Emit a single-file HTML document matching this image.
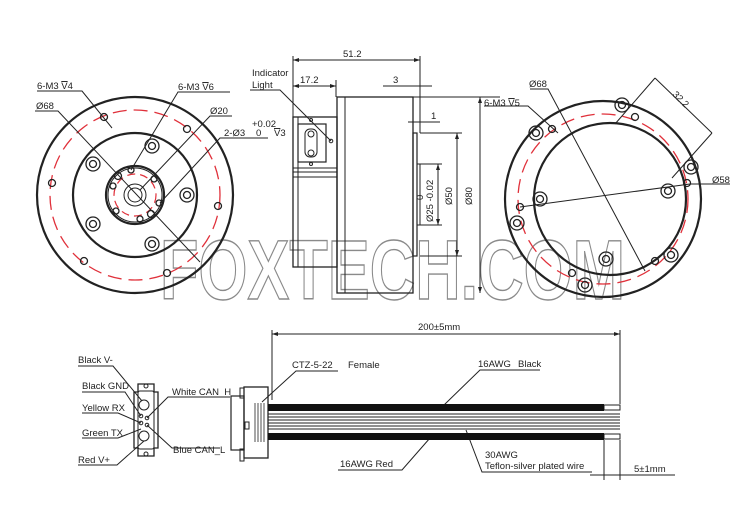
<!DOCTYPE html>
<html><head><meta charset="utf-8"><style>
html,body{margin:0;padding:0;background:#fff;}
svg{display:block;}
text{font-family:"Liberation Sans",sans-serif;fill:#222;}
.ov{text-decoration:overline;}
</style></head><body>
<svg width="750" height="518" viewBox="0 0 750 518" xmlns="http://www.w3.org/2000/svg">
<!-- WATERMARK -->
<text x="160" y="299" font-size="84" font-weight="bold" textLength="465" lengthAdjust="spacingAndGlyphs" style="fill:none;stroke:#8a8a8a;stroke-width:1.4;font-family:'Liberation Sans Narrow','Liberation Sans',sans-serif;">FOXTECH.COM</text>
<g fill="none" stroke="#222" stroke-width="1">
<!-- LEFT VIEW -->
<circle cx="135" cy="195" r="98" stroke-width="2.2"/>
<circle cx="135" cy="195" r="85" stroke="#e0303a" stroke-width="1.3" stroke-dasharray="14,7"/>
<circle cx="135" cy="195" r="62" stroke-width="2.2"/>
<circle cx="135" cy="195" r="29" stroke-width="2.2"/>
<circle cx="135" cy="195" r="27" stroke-width="1"/>
<circle cx="135" cy="195" r="21" stroke="#e0303a" stroke-width="1.2" stroke-dasharray="8,5"/>
<circle cx="135" cy="195" r="11"/>
<circle cx="135" cy="195" r="7"/>
<g stroke-width="1.3">
<circle cx="152" cy="146" r="7"/><circle cx="152" cy="146" r="3.5"/>
<circle cx="93" cy="164" r="7"/><circle cx="93" cy="164" r="3.5"/>
<circle cx="187" cy="195" r="7"/><circle cx="187" cy="195" r="3.5"/>
<circle cx="93" cy="224" r="7"/><circle cx="93" cy="224" r="3.5"/>
<circle cx="152" cy="244" r="7"/><circle cx="152" cy="244" r="3.5"/>
<circle cx="104" cy="117" r="3.5"/><circle cx="187" cy="129" r="3.5"/>
<circle cx="52" cy="183" r="3.5"/><circle cx="218" cy="206" r="3.5"/>
<circle cx="84" cy="261" r="3.5"/><circle cx="167" cy="273" r="3.5"/>
<circle cx="131" cy="170" r="3"/><circle cx="154" cy="179" r="3"/>
<circle cx="113" cy="186" r="3"/><circle cx="159" cy="203" r="3"/>
<circle cx="116" cy="211" r="3"/><circle cx="140" cy="219" r="3"/>
<circle cx="118" cy="176" r="3.5"/><circle cx="151" cy="214" r="3.5"/>
</g>
<polyline points="37,91 82,91 112,128"/>
<polyline points="35,111 58,111 200,262"/>
<polyline points="230,92 178,92 131,170"/>
<polyline points="232,116 210,116 140,190"/>
<polyline points="268,138 220,138 160,203"/>
<!-- SIDE VIEW -->
<rect x="337" y="97" width="76" height="196" stroke-width="1.3"/>
<line x1="345" y1="97" x2="345" y2="293"/>
<rect x="293" y="117" width="44" height="150" stroke-width="1.3"/>
<line x1="298" y1="117" x2="298" y2="267"/>
<line x1="293" y1="168" x2="337" y2="168"/>
<line x1="293" y1="172" x2="337" y2="172"/>
<line x1="293" y1="177" x2="337" y2="177"/>
<rect x="298" y="124" width="28" height="38" stroke-width="1.2"/>
<rect x="305" y="129" width="12" height="28" rx="5"/>
<circle cx="311" cy="134" r="3"/><circle cx="311" cy="153" r="3"/>
<circle cx="331" cy="141" r="1.8"/><circle cx="311" cy="120" r="1.5"/><circle cx="311" cy="164" r="1.5"/>
<rect x="413" y="133" width="4" height="123" stroke-width="1.2"/>
<rect x="417" y="164" width="3" height="61" stroke-width="1"/>
<line x1="293" y1="56" x2="293" y2="117"/>
<line x1="420" y1="56" x2="420" y2="133"/>
<line x1="293" y1="60" x2="420" y2="60"/>
<line x1="336" y1="80" x2="336" y2="97"/>
<line x1="293" y1="86" x2="336" y2="86"/>
<line x1="383" y1="86" x2="432" y2="86"/>
<line x1="408" y1="122" x2="440" y2="122"/>
<line x1="413" y1="97" x2="500" y2="97"/>
<line x1="480" y1="97" x2="480" y2="293"/>
<line x1="420" y1="133" x2="462" y2="133"/>
<line x1="457" y1="133" x2="457" y2="256"/>
<line x1="420" y1="256" x2="462" y2="256"/>
<line x1="420" y1="164" x2="442" y2="164"/>
<line x1="438" y1="164" x2="438" y2="225"/>
<line x1="420" y1="225" x2="442" y2="225"/>
<polyline points="250,90 280,90 331,141"/>
<!-- RIGHT VIEW -->
<circle cx="603" cy="199" r="98" stroke-width="2.2"/>
<circle cx="603" cy="199" r="85" stroke="#e0303a" stroke-width="1.3" stroke-dasharray="14,7"/>
<circle cx="610" cy="199" r="76" stroke-width="2.2"/>
<g stroke-width="1.3">
<circle cx="622" cy="105" r="7"/><circle cx="622" cy="105" r="3.5"/>
<circle cx="536" cy="133" r="7"/><circle cx="536" cy="133" r="3.5"/>
<circle cx="691" cy="167" r="7"/><circle cx="691" cy="167" r="3.5"/>
<circle cx="540" cy="199" r="7"/><circle cx="540" cy="199" r="3.5"/>
<circle cx="668" cy="191" r="7"/><circle cx="668" cy="191" r="3.5"/>
<circle cx="517" cy="223" r="7"/><circle cx="517" cy="223" r="3.5"/>
<circle cx="606" cy="259" r="7"/><circle cx="606" cy="259" r="3.5"/>
<circle cx="671" cy="255" r="7"/><circle cx="671" cy="255" r="3.5"/>
<circle cx="585" cy="285" r="7"/><circle cx="585" cy="285" r="3.5"/>
<circle cx="635" cy="117" r="3.5"/><circle cx="552" cy="129" r="3.5"/>
<circle cx="687" cy="183" r="3.5"/><circle cx="520" cy="207" r="3.5"/>
<circle cx="655" cy="261" r="3.5"/><circle cx="572" cy="273" r="3.5"/>
</g>
<polyline points="530,89 548,89 645,271"/>
<polyline points="484,106 528,106 558,133"/>
<line x1="520" y1="207" x2="690" y2="184"/>
<polyline points="690,184 730,184"/>
<line x1="655" y1="78" x2="712" y2="133"/>
<line x1="615" y1="124" x2="655" y2="78"/>
<line x1="672" y1="178" x2="712" y2="133"/>
<!-- CONNECTOR FACE -->
<path d="M138,384 h16 v8 h4 v56 h-4 v8 h-16 v-8 h-4 v-56 h4 z" stroke-width="1.3"/>
<rect x="138" y="391" width="16" height="58" rx="2"/>
<circle cx="146" cy="386" r="2"/><circle cx="146" cy="454" r="2"/>
<circle cx="144" cy="405" r="5"/><circle cx="144" cy="436" r="5"/>
<circle cx="141" cy="416" r="1.8"/><circle cx="147" cy="418" r="1.8"/>
<circle cx="141" cy="423" r="1.8"/><circle cx="147" cy="425" r="1.8"/>
<polyline points="78,366 113,366 142,401"/>
<polyline points="82,392 125,392 141,416"/>
<polyline points="82,413 118,413 141,423"/>
<polyline points="82,438 118,438 141,429"/>
<polyline points="78,465 117,465 144,441"/>
<polyline points="230,397 168,397 147,418"/>
<polyline points="220,448 172,448 147,425"/>
<!-- CABLE CONNECTOR -->
<rect x="231" y="396" width="13" height="54" stroke-width="1.2"/>
<rect x="244" y="387" width="24" height="71" stroke-width="1.3"/>
<rect x="240" y="388" width="4" height="10"/><rect x="240" y="449" width="4" height="12"/>
<g stroke-width="0.8"><line x1="255" y1="403" x2="255" y2="442"/><line x1="258" y1="403" x2="258" y2="442"/><line x1="261" y1="403" x2="261" y2="442"/><line x1="264" y1="403" x2="264" y2="442"/></g>
<rect x="245" y="422" width="4" height="7"/>
<rect x="604" y="405" width="16" height="5"/>
<rect x="604" y="434" width="16" height="5"/>
<g stroke-width="0.9">
<line x1="268" y1="414" x2="620" y2="414"/><line x1="268" y1="417" x2="620" y2="417"/>
<line x1="268" y1="420" x2="620" y2="420"/><line x1="268" y1="423" x2="620" y2="423"/>
<line x1="268" y1="426" x2="620" y2="426"/><line x1="268" y1="429" x2="620" y2="429"/>
</g>
<line x1="272" y1="330" x2="272" y2="400"/>
<line x1="620" y1="330" x2="620" y2="404"/>
<line x1="272" y1="334" x2="620" y2="334"/>
<line x1="604" y1="440" x2="604" y2="480"/>
<line x1="620" y1="440" x2="620" y2="480"/>
<line x1="590" y1="475" x2="675" y2="475"/>
<polyline points="338,371 296,371 262,402"/>
<polyline points="540,370 480,370 444,405"/>
<polyline points="338,470 402,470 430,438"/>
<polyline points="592,472 482,472 466,430"/>
</g>
<rect x="268" y="404" width="336" height="7" fill="#111"/>
<rect x="268" y="433" width="336" height="7" fill="#111"/>
<g fill="#222">
<polygon points="293,60 299,58 299,62"/><polygon points="420,60 414,58 414,62"/>
<polygon points="293,86 299,84 299,88"/><polygon points="336,86 330,84 330,88"/>
<polygon points="272,334 278,332 278,336"/><polygon points="620,334 614,332 614,336"/>
<polygon points="480,97 478,103 482,103"/><polygon points="480,293 478,287 482,287"/>
<polygon points="457,133 455,139 459,139"/><polygon points="457,256 455,250 459,250"/>
<polygon points="438,164 436,170 440,170"/><polygon points="438,225 436,219 440,219"/>
</g>
<g font-size="9.5">
<text x="37" y="89">6-M3 <tspan class="ov">V</tspan>4</text>
<text x="36" y="109">Ø68</text>
<text x="178" y="90">6-M3 <tspan class="ov">V</tspan>6</text>
<text x="210" y="114">Ø20</text>
<text x="224" y="136">2-Ø3</text>
<text x="252" y="127">+0.02</text>
<text x="256" y="136">0</text>
<text x="274" y="136"><tspan class="ov">V</tspan>3</text>
<text x="252" y="76">Indicator</text>
<text x="252" y="88">Light</text>
<text x="343" y="57">51.2</text>
<text x="300" y="83">17.2</text>
<text x="393" y="83">3</text>
<text x="431" y="119">1</text>
<text x="484" y="106">6-M3 <tspan class="ov">V</tspan>5</text>
<text x="529" y="87">Ø68</text>
<text x="712" y="183">Ø58</text>
<text transform="translate(672,95) rotate(45)">32.2</text>
<text transform="translate(472,205) rotate(-90)">Ø80</text>
<text transform="translate(452,205) rotate(-90)">Ø50</text>
<text transform="translate(433,222) rotate(-90)">Ø25 -0.02</text>
<text transform="translate(423,200) rotate(-90)">0</text>
<text x="418" y="330">200±5mm</text>
<text x="78" y="363">Black V-</text>
<text x="82" y="389">Black GND</text>
<text x="82" y="411">Yellow RX</text>
<text x="82" y="436">Green TX</text>
<text x="78" y="463">Red V+</text>
<text x="172" y="395">White CAN_H</text>
<text x="173" y="453">Blue CAN_L</text>
<text x="292" y="368">CTZ-5-22</text>
<text x="348" y="368">Female</text>
<text x="478" y="367">16AWG</text>
<text x="518" y="367">Black</text>
<text x="340" y="467">16AWG Red</text>
<text x="485" y="458">30AWG</text>
<text x="485" y="469">Teflon-silver plated wire</text>
<text x="634" y="472">5±1mm</text>
</g>
</svg>
</body></html>
